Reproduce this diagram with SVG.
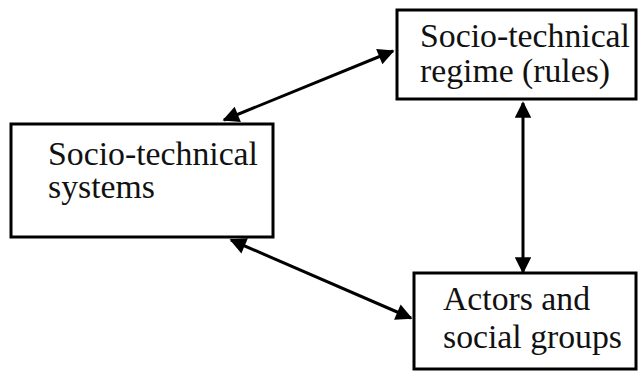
<svg xmlns="http://www.w3.org/2000/svg" width="639" height="372" viewBox="0 0 639 372">
<style>
.box{fill:#fff;stroke:#000;stroke-width:3}
.t{font-family:"Liberation Serif","Times New Roman",serif;font-size:33px;fill:#111}
.c{stroke:#000;stroke-width:3;fill:none}
</style>
<defs>
<marker id="ah" viewBox="0 0 10 10" refX="9" refY="5" markerWidth="6" markerHeight="5.5" orient="auto-start-reverse" markerUnits="strokeWidth">
<path d="M0,0 L10,5 L0,10 z" fill="#000"/>
</marker>
</defs>
<rect width="639" height="372" fill="#fff"/>
<g id="connectors">
<line class="c" x1="224" y1="120" x2="393" y2="51" marker-start="url(#ah)" marker-end="url(#ah)"/>
<line class="c" x1="523" y1="103" x2="523" y2="272" marker-start="url(#ah)" marker-end="url(#ah)"/>
<line class="c" x1="231" y1="240" x2="411" y2="318" marker-start="url(#ah)" marker-end="url(#ah)"/>
</g>
<g id="regime">
<rect class="box" x="397" y="10" width="239" height="89"/>
<text class="t" x="420" y="47" textLength="210" lengthAdjust="spacingAndGlyphs">Socio-technical</text>
<text class="t" x="420" y="82" textLength="190" lengthAdjust="spacingAndGlyphs">regime (rules)</text>
</g>
<g id="systems">
<rect class="box" x="11" y="124" width="262" height="113"/>
<text class="t" x="48" y="165" textLength="210" lengthAdjust="spacingAndGlyphs">Socio-technical</text>
<text class="t" x="48" y="198" textLength="107" lengthAdjust="spacingAndGlyphs">systems</text>
</g>
<g id="actors">
<rect class="box" x="414" y="273" width="222" height="96"/>
<text class="t" x="443" y="310" textLength="147" lengthAdjust="spacingAndGlyphs">Actors and</text>
<text class="t" x="443" y="348" textLength="179" lengthAdjust="spacingAndGlyphs">social groups</text>
</g>
</svg>
